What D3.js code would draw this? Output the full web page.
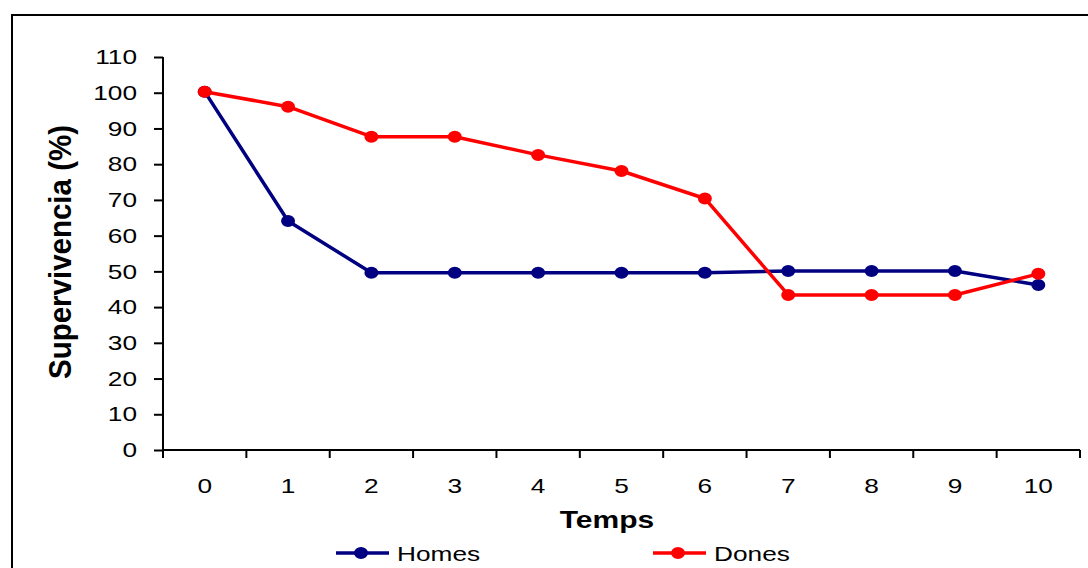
<!DOCTYPE html>
<html>
<head>
<meta charset="utf-8">
<script src="https://cdn.jsdelivr.net/npm/d3@7"></script>
<style>
  body { margin: 0; background: #fff; }
  svg { display: block; font-family: "Liberation Sans", Arial, sans-serif; }
</style>
</head>
<body>
<div id="container"></div>
<script>
const temps = ["0", "1", "2", "3", "4", "5", "6", "7", "8", "9", "10"];
const homes = [100.3, 64.1, 49.6, 49.6, 49.6, 49.6, 49.6, 50.1, 50.1, 50.1, 46.2];
const dones = [100.3, 96.1, 87.7, 87.7, 82.6, 78.1, 70.4, 43.4, 43.4, 43.4, 49.3];
const yTicks = [0, 10, 20, 30, 40, 50, 60, 70, 80, 90, 100, 110];

const W = 1088, H = 568;
const margin = { top: 57, right: 8, bottom: 118, left: 163 };
const width = W - margin.left - margin.right;
const height = H - margin.top - margin.bottom;
const SX = 1.25; // the original text is drawn wide

// widen a text horizontally around its own anchor point
function widen(sel) {
  sel.each(function () {
    const t = d3.select(this);
    const tx = +t.attr("x") || 0, ty = +t.attr("y") || 0;
    t.attr("transform", `translate(${tx},${ty}) scale(${SX},1) translate(${-tx},${-ty})`);
  });
}

const root = d3.select("#container").append("svg")
  .attr("width", W)
  .attr("height", H);

// outer frame (right/bottom run off the picture)
root.append("rect")
  .attr("x", 12).attr("y", 15)
  .attr("width", 1100).attr("height", 600)
  .attr("fill", "none")
  .attr("stroke", "#000")
  .attr("stroke-width", 2);

const svg = root.append("g")
  .attr("transform", `translate(${margin.left},${margin.top})`);

const x = d3.scaleBand().domain(temps).range([0, width]).padding(0);
const y = d3.scaleLinear().domain([0, 110]).range([height, 0]);

// Y axis
const yAxis = d3.axisLeft(y).tickValues(yTicks).tickSize(9).tickPadding(17);
const gy = svg.append("g").call(yAxis);
gy.select(".domain").attr("stroke", "#000").attr("stroke-width", 2).attr("d", `M0,${height}V0`);
gy.selectAll(".tick line").attr("stroke", "#000").attr("stroke-width", 2);
gy.selectAll(".tick text").attr("font-size", 21).attr("fill", "#000")
  .attr("font-family", "Liberation Sans, Arial, sans-serif")
  .call(widen);

// X axis, ticks between categories
const xAxis = d3.axisBottom(x).tickSize(0).tickPadding(28);
const gx = svg.append("g").attr("transform", `translate(0,${height})`).call(xAxis);
gx.select(".domain").attr("stroke", "#000").attr("stroke-width", 2).attr("d", `M0,0H${width}`);
gx.selectAll(".tick text").attr("font-size", 21).attr("fill", "#000")
  .attr("font-family", "Liberation Sans, Arial, sans-serif")
  .call(widen);
svg.append("g").attr("transform", `translate(0,${height})`)
  .selectAll("line")
  .data(temps.concat(["end"]))
  .join("line")
  .attr("x1", (d, i) => i * x.step())
  .attr("x2", (d, i) => i * x.step())
  .attr("y1", 0).attr("y2", 8)
  .attr("stroke", "#000").attr("stroke-width", 2);

// axis titles
root.append("text")
  .attr("transform", `translate(60,252) scale(${SX},1) rotate(-90) scale(1.18,1)`)
  .attr("text-anchor", "middle")
  .attr("dominant-baseline", "central")
  .attr("font-size", 25).attr("font-weight", "bold")
  .text("Supervivencia (%)");

root.append("text")
  .attr("x", 607).attr("y", 528)
  .attr("text-anchor", "middle")
  .attr("font-size", 24).attr("font-weight", "bold")
  .text("Temps")
  .call(widen);

// series
const series = [
  { name: "Homes", values: homes, color: "#000080" },
  { name: "Dones", values: dones, color: "#ff0000" }
];

const line = d3.line()
  .x((d, i) => x(temps[i]) + x.bandwidth() / 2)
  .y(d => y(d));

series.forEach(s => {
  svg.append("path")
    .datum(s.values)
    .attr("fill", "none")
    .attr("stroke", s.color)
    .attr("stroke-width", 3.5)
    .attr("stroke-linejoin", "round")
    .attr("d", line);
  svg.selectAll(null)
    .data(s.values)
    .join("ellipse")
    .attr("cx", (d, i) => x(temps[i]) + x.bandwidth() / 2)
    .attr("cy", d => y(d))
    .attr("rx", 7).attr("ry", 6)
    .attr("fill", s.color);
});

// legend
const legendPos = [336, 653];
const legend = root.append("g");
series.forEach((s, i) => {
  const g = legend.append("g").attr("transform", `translate(${legendPos[i]},553)`);
  g.append("line").attr("x1", 0).attr("x2", 53).attr("y1", 0).attr("y2", 0)
    .attr("stroke", s.color).attr("stroke-width", 3.5);
  g.append("ellipse").attr("cx", 25).attr("cy", 0).attr("rx", 7).attr("ry", 6).attr("fill", s.color);
  g.append("text").attr("x", 61).attr("y", 8)
    .attr("font-size", 21)
    .text(s.name)
    .call(widen);
});
</script>
</body>
</html>
